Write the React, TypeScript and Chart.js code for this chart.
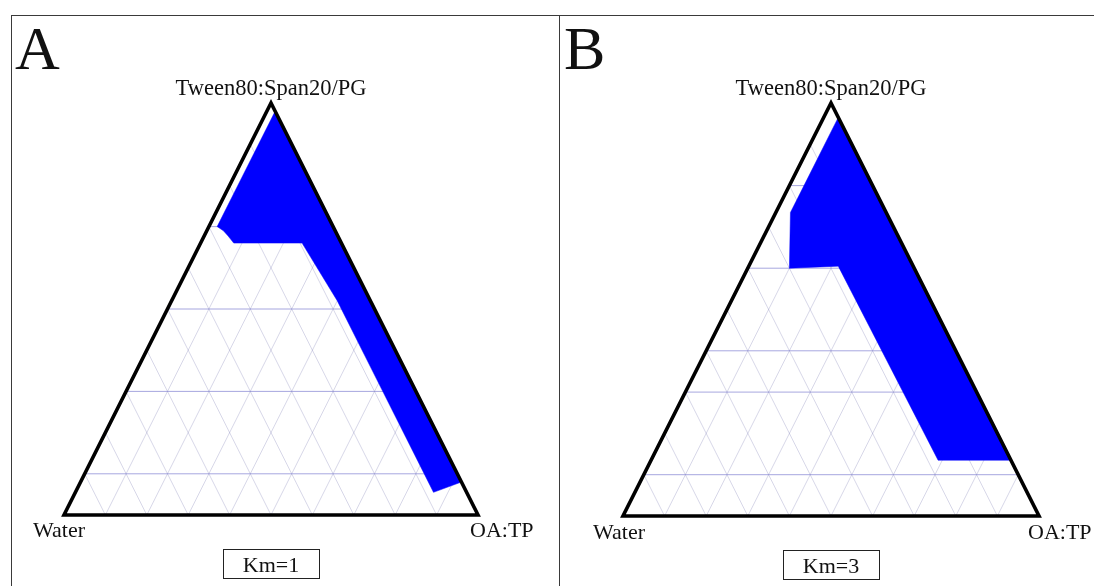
import React, { useEffect, useRef } from 'react';
import { Chart, registerables } from 'chart.js';
Chart.register(...registerables);

// ---- labels ----
const apexLabel = 'Tween80:Span20/PG';
const leftLabel = 'Water';
const rightLabel = 'OA:TP';
const panelLetters = ['A', 'B'];
const kmLabels = ['Km=1', 'Km=3'];

// ---- grid (percent) ----
const gridSteps = [10, 20, 30, 40, 50, 60, 70, 80, 90];
const levelsA = [10, 30, 50, 70];
const levelsB = [10, 30, 40, 60, 80];

// ---- microemulsion region, panel A (Km=1), composition in % ----
const surfA = [98, 70, 69, 67.7, 66, 66, 52, 5.5, 8];
const oilA = [2, 2, 4, 5.8, 8, 24.5, 40, 86.5, 92];
const waterA = [0, 28, 27, 26.5, 26, 9.5, 8, 8, 0];

// ---- microemulsion region, panel B (Km=3), composition in % ----
const surfB = [96.5, 73.5, 60, 60.5, 13.5, 13.5];
const oilB = [3.5, 3.5, 10, 21.5, 69, 86.5];
const waterB = [0, 23, 30, 18, 17.5, 0];

const FONT = '"Liberation Serif", "Times New Roman", serif';

function toXY(s: number, o: number) {
  return { x: (o + s / 2) / 100, y: s / 100 };
}

type Spec = {
  letter: string;
  km: string;
  surf: number[];
  oil: number[];
  water: number[];
  levels: number[];
  left: number;
  width: number;
  padding: { left: number; right: number; top: number; bottom: number };
  letterX: number;
  waterDx: number;
  rightDx: number;
  labelDy: number;
};

function TernaryPanel({ spec }: { spec: Spec }) {
  const ref = useRef<HTMLCanvasElement>(null);
  useEffect(() => {
    const canvas = ref.current!;
    const pts = spec.surf.map((s, i) => toXY(s, spec.oil[i]));
    pts.push(pts[0]);

    const plugin = {
      id: 'ternaryDecor',
      beforeDatasetsDraw(chart: any) {
        const { ctx } = chart;
        const xs = chart.scales.x;
        const ys = chart.scales.y;
        const P = (s: number, o: number) => {
          const q = toXY(s, o);
          return [xs.getPixelForValue(q.x), ys.getPixelForValue(q.y)];
        };
        const seg = (a: number[], b: number[]) => {
          ctx.beginPath();
          ctx.moveTo(a[0], a[1]);
          ctx.lineTo(b[0], b[1]);
          ctx.stroke();
        };
        ctx.save();
        ctx.strokeStyle = 'rgba(115,115,175,0.38)';
        ctx.lineWidth = 0.75;
        for (const k of gridSteps) {
          seg(P(0, k), P(100 - k, k));
          seg(P(0, 100 - k), P(100 - k, 0));
        }
        ctx.strokeStyle = 'rgba(130,130,210,0.7)';
        ctx.lineWidth = 1;
        for (const k of spec.levels) seg(P(k, 0), P(k, 100 - k));
        ctx.restore();
      },
      afterDatasetsDraw(chart: any) {
        const { ctx } = chart;
        const xs = chart.scales.x;
        const ys = chart.scales.y;
        const L = [xs.getPixelForValue(0), ys.getPixelForValue(0)];
        const R = [xs.getPixelForValue(1), ys.getPixelForValue(0)];
        const T = [xs.getPixelForValue(0.5), ys.getPixelForValue(1)];
        ctx.save();
        ctx.strokeStyle = '#000';
        ctx.lineWidth = 3.6;
        ctx.lineJoin = 'miter';
        ctx.beginPath();
        ctx.moveTo(L[0], L[1]);
        ctx.lineTo(R[0], R[1]);
        ctx.lineTo(T[0], T[1]);
        ctx.closePath();
        ctx.stroke();

        ctx.fillStyle = '#111';
        ctx.textBaseline = 'alphabetic';
        ctx.font = `22.5px ${FONT}`;
        ctx.textAlign = 'center';
        ctx.fillText(apexLabel, T[0], T[1] - 8);
        ctx.font = `22px ${FONT}`;
        ctx.textAlign = 'left';
        ctx.fillText(leftLabel, L[0] + spec.waterDx, L[1] + spec.labelDy);
        ctx.fillText(rightLabel, R[0] + spec.rightDx, R[1] + spec.labelDy);

        // Km box
        const bw = 96;
        const bh = 29;
        const bx = Math.round(T[0] - bw / 2) + 0.5;
        const by = Math.round(L[1] + 34) + 0.5;
        ctx.lineWidth = 1;
        ctx.strokeStyle = '#222';
        ctx.strokeRect(bx, by, bw, bh);
        ctx.textAlign = 'center';
        ctx.fillText(spec.km, T[0], by + 22);

        ctx.textAlign = 'left';
        ctx.font = `62px ${FONT}`;
        ctx.fillText(spec.letter, spec.letterX, 69);
        ctx.restore();
      },
    };

    const chart = new Chart(canvas, {
      type: 'scatter',
      data: {
        datasets: [
          {
            data: pts,
            showLine: true,
            fill: 'shape',
            backgroundColor: '#0000ff',
            borderColor: '#0000ff',
            borderWidth: 0.5,
            pointRadius: 0,
            tension: 0,
            clip: false,
          } as any,
        ],
      },
      options: {
        responsive: false,
        animation: false,
        devicePixelRatio: 1,
        events: [],
        layout: { padding: spec.padding },
        plugins: { legend: { display: false }, tooltip: { enabled: false } },
        scales: {
          x: { type: 'linear', min: 0, max: 1, display: false },
          y: { type: 'linear', min: 0, max: 1, display: false },
        },
      },
      plugins: [plugin as any],
    });
    return () => chart.destroy();
  }, [spec]);

  return (
    <canvas
      ref={ref}
      width={spec.width}
      height={586}
      style={{ position: 'absolute', left: spec.left, top: 0, width: spec.width, height: 586 }}
    />
  );
}

const specA: Spec = {
  letter: panelLetters[0],
  km: kmLabels[0],
  surf: surfA,
  oil: oilA,
  water: waterA,
  levels: levelsA,
  left: 0,
  width: 559,
  padding: { left: 64, right: 81, top: 103, bottom: 71 },
  letterX: 15,
  waterDx: -31,
  rightDx: -8,
  labelDy: 22,
};

const specB: Spec = {
  letter: panelLetters[1],
  km: kmLabels[1],
  surf: surfB,
  oil: oilB,
  water: waterB,
  levels: levelsB,
  left: 559,
  width: 535,
  padding: { left: 64, right: 55, top: 103, bottom: 70 },
  letterX: 5,
  waterDx: -30,
  rightDx: -11,
  labelDy: 23,
};

export default function App() {
  const line = '#3a3a3a';
  return (
    <div style={{ position: 'absolute', left: 0, top: 0, width: 1094, height: 586, background: '#fff', overflow: 'hidden' }}>
      <TernaryPanel spec={specA} />
      <TernaryPanel spec={specB} />
      <div style={{ position: 'absolute', left: 11, top: 15, width: 1083, height: 1, background: line }} />
      <div style={{ position: 'absolute', left: 11, top: 15, width: 1, height: 571, background: line }} />
      <div style={{ position: 'absolute', left: 559, top: 15, width: 1, height: 571, background: line }} />
    </div>
  );
}
